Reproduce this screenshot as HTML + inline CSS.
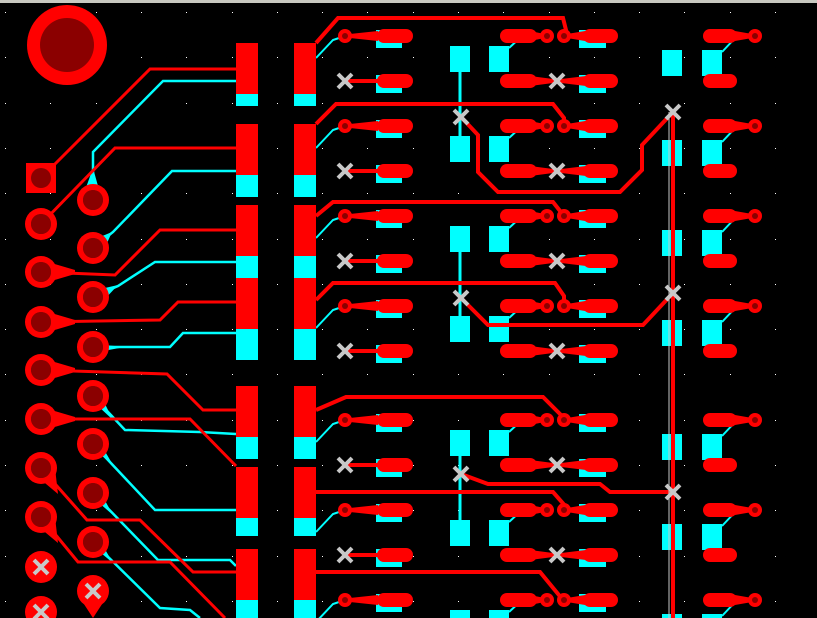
<!DOCTYPE html>
<html><head><meta charset="utf-8"><style>
html,body{margin:0;padding:0;background:#000;overflow:hidden}
svg{display:block}
</style></head><body>
<svg id="s" width="817" height="618" viewBox="0 0 817 618" xmlns="http://www.w3.org/2000/svg">
<rect width="817" height="618" fill="#000"/>
<rect width="817" height="3" fill="#c8c8c0"/>
<g id="dots" fill="#fff"></g>
<g id="cy" fill="#00ffff" stroke="#00ffff"></g>
<g id="rd" fill="#ff0000" stroke="#ff0000"></g>
<g id="top"></g>
</svg>
<script>
var NS="http://www.w3.org/2000/svg";
function el(p,t,a){var e=document.createElementNS(NS,t);for(var k in a)e.setAttribute(k,a[k]);document.getElementById(p).appendChild(e);return e;}
for(var x=5;x<817;x+=45.3)for(var y=12;y<618;y+=45.3)el("dots","rect",{x:Math.round(x),y:Math.round(y),width:1,height:1,stroke:"none"});
var R="#ff0000",C="#00ffff",D="#8b0000",G="#c8c8c8";
function line(g,pts,w,col){el(g,"polyline",{points:pts,fill:"none",stroke:col,"stroke-width":w,"stroke-linejoin":"miter"});}
function rect(g,x,y,w,h,col){el(g,"rect",{x:x,y:y,width:w,height:h,fill:col,stroke:"none"});}
function X(x,y){el("top","path",{d:"M"+(x-7)+" "+(y-7)+"L"+(x+7)+" "+(y+7)+"M"+(x+7)+" "+(y-7)+"L"+(x-7)+" "+(y+7),stroke:G,"stroke-width":4,fill:"none"});}
function via(x,y){el("rd","circle",{cx:x,cy:y,r:7,fill:R,stroke:"none"});el("top","circle",{cx:x,cy:y,r:3,fill:D});}
function oval(x,y,w){el("rd","rect",{x:x,y:y-7,width:w,height:14,rx:7,ry:7,fill:R,stroke:"none"});}
function taper(x1,x2,y){el("rd","polygon",{points:x1+","+(y-1.5)+" "+x2+","+(y-5)+" "+x2+","+(y+5)+" "+x1+","+(y+1.5),stroke:"none"});}
var rows=[36,81,126,171,216,261,306,351,420,465,510,555,600];
var grp=[[36,126],[216,306],[420,510],[600]];
grp.forEach(function(g){
  g.forEach(function(y){
    rect("cy",450,y+10,20,26,C);rect("cy",489,y+10,20,26,C);rect("cy",662,y+14,20,26,C);rect("cy",702,y+14,20,26,C);
    line("cy","509,"+(y+12)+" 522,"+y,2,C);
    line("cy","722,"+(y+16)+" 737,"+y,2,C);
  });
  if(g.length==2){line("cy","460,"+(g[0]+36)+" 460,"+(g[1]+10),3,C);}
});
rows.forEach(function(y){rect("cy",376,y-6,26,18,C);rect("cy",579,y-6,27,18,C);});
[[43,94,106],[124,175,197],[205,256,278],[278,329,360],[386,437,459],[467,518,536],[549,600,618]].forEach(function(b){
  [236,294].forEach(function(x){rect("rd",x,b[0],22,b[1]-b[0],R);rect("cy",x,b[1],22,b[2]-b[1],C);});
});
rows.forEach(function(y,i){
  var odd=(i%2==0);
  oval(377,y,36);oval(500,y,37);oval(583,y,35);oval(703,y,34);
  if(odd){
    taper(345,378,y);via(345,y);taper(547,530,y);via(547,y);taper(564,585,y);via(564,y);taper(755,735,y);via(755,y);
    line("cy","316,"+(y+22)+" 333,"+(y+4)+" 345,"+y,2,C);
  } else {
    line("rd","345,"+y+" 380,"+y,4,R);X(345,y);taper(557,530,y);taper(557,586,y);X(557,y);
  }
});
function pad(x,y,xx){el("rd","circle",{cx:x,cy:y,r:16,fill:R,stroke:"none"});if(!xx)el("top","circle",{cx:x,cy:y,r:10,fill:D});else X(x,y);}
el("rd","circle",{cx:67,cy:45,r:40,fill:R,stroke:"none"});el("top","circle",{cx:67,cy:45,r:27,fill:D});
rect("rd",26,163,30,30,R);el("top","circle",{cx:41,cy:178,r:10,fill:D});
[224,272,322,370,419,468,517].forEach(function(y){pad(41,y);});pad(41,567,1);pad(41,612,1);
[200,248,297,347,396,444,493,542].forEach(function(y){pad(93,y);});pad(93,591,1);
el("rd","polygon",{points:"80,598 106,598 93,618",stroke:"none"});
var LR=["41,178 150,69 236,69","41,224 115,148 236,148","41,272 115,275 160,230 236,230","41,322 160,320 178,302 236,302",
"41,370 167,374 203,410 236,410","41,419 190,419 236,466","41,468 87,520 140,520 193,572 236,572","41,517 78,562 170,562 225,618"];
LR.forEach(function(p){line("rd",p,3,R);});
[272,322,370,419].forEach(function(y){el("rd","polygon",{points:"41,"+(y-12)+" 75,"+(y-2)+" 75,"+(y+2)+" 41,"+(y+12),stroke:"none"});});
[468,517].forEach(function(y){el("rd","polygon",{points:"27,"+y+" 55,"+y+" 58,"+(y+26),stroke:"none"});});
var LC=["93,200 93,152 163,81 236,81","93,248 113,232 172,171 236,171","93,297 118,286 155,262 236,262","93,347 170,347 183,333 236,333",
"93,396 125,430 200,432 236,434","93,444 155,510 236,510","93,493 158,560 230,560 236,566","93,542 160,608 190,610 200,618"];
LC.forEach(function(p){line("cy",p,2.5,C);});
[[93,200,93,168],[93,248,112,232],[93,297,118,285],[93,347,125,347],[93,396,113,420],[93,444,113,465],[93,493,113,515],[93,542,113,563]].forEach(function(t){
  el("cy","polygon",{points:(t[0]-10)+","+(t[1]-4)+" "+(t[0]+10)+","+(t[1]+4)+" "+t[2]+","+t[3],stroke:"none"});
});
[224,272,322,370,419,468,517].forEach(function(y){el("top","circle",{cx:41,cy:y,r:10,fill:D});});
[200,248,297,347,396,444,493,542].forEach(function(y){el("top","circle",{cx:93,cy:y,r:10,fill:D});});
var RR=["316,43 338,18 563,18 566,30 564,36","316,124 336,104 553,104 564,118 564,126","316,216 333,202 553,202 564,216",
"316,300 333,283 555,283 564,296 564,306","316,410 346,397 543,397 563,417","316,492 553,492 567,508","316,572 540,572 563,600",
"461,117 478,135 478,172 498,192 620,192 642,170 642,145 673,112","461,298 488,325 643,325 673,293","461,474 488,484 600,484 610,492 673,492",
"673,112 673,618"];
RR.forEach(function(p){line("rd",p,4,R);});
line("top","669,112 669,618",1,G);
[[461,117],[461,298],[461,474],[673,112],[673,293],[673,492]].forEach(function(p){X(p[0],p[1]);});
</script>
</body></html>
